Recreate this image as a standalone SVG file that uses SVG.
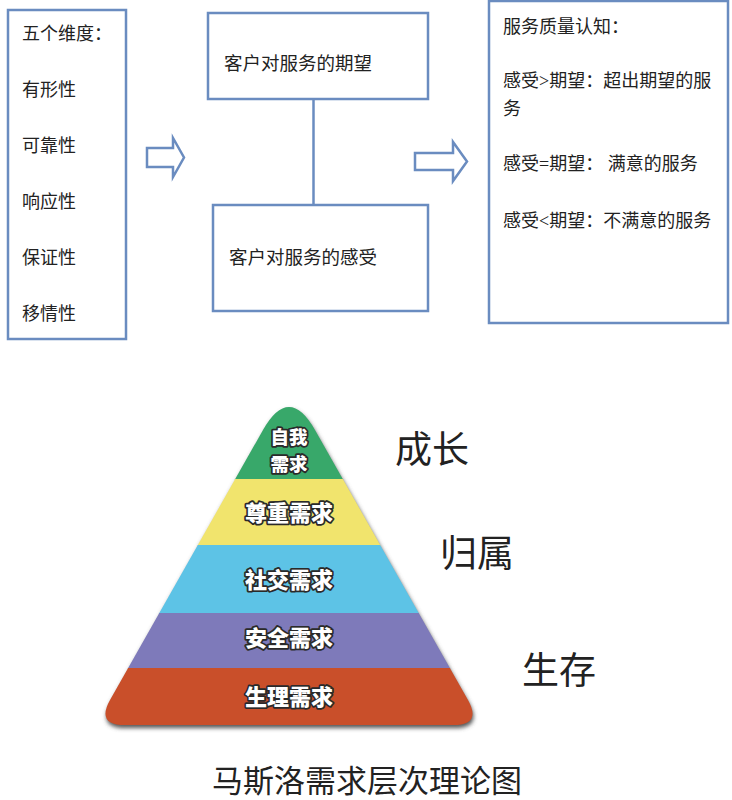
<svg xmlns="http://www.w3.org/2000/svg" width="732" height="800" viewBox="0 0 732 800">
<style>
.box{fill:#fff;stroke:#6a8cc0;stroke-width:2.5}
.conn{fill:none;stroke:#6a8cc0;stroke-width:2.5}
.arr{fill:#fff;stroke:#6a8cc0;stroke-width:2.5;stroke-linejoin:miter}
.t{font-family:"Liberation Serif","Noto Sans CJK SC",serif;font-size:18px;fill:#222}
.tm{font-family:"Liberation Serif","Noto Sans CJK SC",serif;font-size:18.5px;fill:#222}
.pl{font-family:"Noto Sans CJK SC",sans-serif;font-size:22px;font-weight:900;fill:#fff;stroke:#2a2a2a;stroke-width:3.5;paint-order:stroke;stroke-linejoin:round;text-anchor:middle}
.pls{font-size:18.5px}
.side{font-family:"Noto Sans CJK SC",sans-serif;font-size:37px;fill:#222}
.title{font-family:"Noto Sans CJK SC",sans-serif;font-size:31px;fill:#222}
</style>
<defs>
<clipPath id="tri"><path d="M263,430 Q289,384 315,430 L468,700 Q482,725 453,725 L125,725 Q96,725 110,700 Z"/></clipPath>
<filter id="blur" x="-10%" y="-10%" width="120%" height="120%"><feGaussianBlur stdDeviation="2"/></filter>
</defs>
<rect width="732" height="800" fill="#fff"/>

<g id="connectors">
<line class="conn" x1="313.5" y1="99" x2="313.5" y2="205"/>
<path class="arr" d="M147,148 L173,148 L173,138 L184,157.5 L173,177 L173,167 L147,167 Z"/>
<path class="arr" d="M415,153 L453,153 L453,142 L467,161.5 L453,181 L453,170 L415,170 Z"/>
</g>

<g id="node-dimensions">
<rect class="box" x="8" y="10" width="118" height="329"/>
<text class="t" x="22" y="40">五个维度：</text>
<text class="t" x="22" y="96">有形性</text>
<text class="t" x="22" y="152">可靠性</text>
<text class="t" x="22" y="208">响应性</text>
<text class="t" x="22" y="264">保证性</text>
<text class="t" x="22" y="320">移情性</text>
</g>

<g id="node-expectation">
<rect class="box" x="208" y="13" width="220" height="86"/>
<text class="tm" x="224" y="70">客户对服务的期望</text>
</g>

<g id="node-perception">
<rect class="box" x="213" y="205" width="215" height="106"/>
<text class="tm" x="229" y="264">客户对服务的感受</text>
</g>

<g id="node-quality">
<rect class="box" x="489" y="1" width="239" height="322"/>
<text class="t" x="503" y="33">服务质量认知：</text>
<text class="t" x="503" y="87">感受&gt;期望：超出期望的服</text>
<text class="t" x="503" y="115">务</text>
<text class="t" x="503" y="170">感受=期望： 满意的服务</text>
<text class="t" x="503" y="227">感受&lt;期望：不满意的服务</text>
</g>

<g id="pyramid">
<path d="M263,430 Q289,384 315,430 L468,700 Q482,725 453,725 L125,725 Q96,725 110,700 Z" transform="translate(1,3)" fill="#555" filter="url(#blur)"/>
<g clip-path="url(#tri)">
<rect x="90" y="380" width="400" height="100" fill="#38a86a"/>
<rect x="90" y="479" width="400" height="67" fill="#f1e46d"/>
<rect x="90" y="545" width="400" height="69" fill="#5dc3e6"/>
<rect x="90" y="613" width="400" height="56" fill="#7e7aba"/>
<rect x="90" y="668" width="400" height="60" fill="#c94f2a"/>
</g>
</g>

<g id="level-self">
<text class="pl pls" x="289" y="444">自我</text>
<text class="pl pls" x="289" y="471">需求</text>
</g>
<g id="level-esteem"><text class="pl" x="289" y="521">尊重需求</text></g>
<g id="level-social"><text class="pl" x="289" y="588">社交需求</text></g>
<g id="level-safety"><text class="pl" x="289" y="646">安全需求</text></g>
<g id="level-physio"><text class="pl" x="289" y="705">生理需求</text></g>

<g id="label-growth"><text class="side" x="395" y="463">成长</text></g>
<g id="label-belong"><text class="side" x="440" y="567">归属</text></g>
<g id="label-survive"><text class="side" x="522" y="684">生存</text></g>

<g id="title"><text class="title" x="212" y="792">马斯洛需求层次理论图</text></g>
</svg>
